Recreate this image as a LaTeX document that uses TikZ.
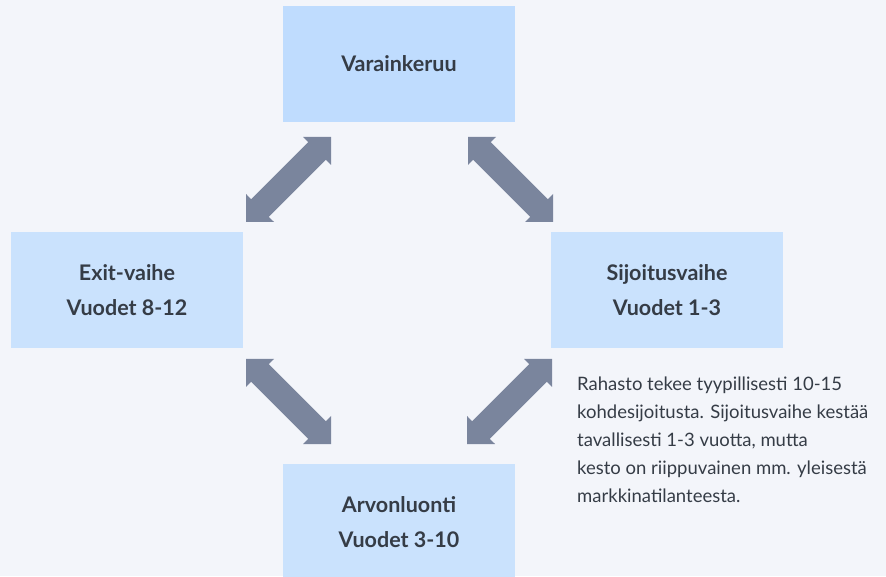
\documentclass[tikz,border=0pt]{standalone}
\usepackage{fontspec}
\setmainfont{Lato}
\usetikzlibrary{calc}
\definecolor{bg}{HTML}{F3F5FA}
\definecolor{boxtop}{HTML}{BFDCFE}
\definecolor{boxc}{HTML}{CAE2FD}
\definecolor{arrowc}{HTML}{7A859D}
\definecolor{txt}{HTML}{353C46}
\newcommand\twoway[2]{%
  \fill[arrowc] (#1) -- ($(#1)!28pt!45:(#2)$) -- ($(#1)!23.4pt!32.3:(#2)$)
    -- ($(#2)!23.4pt!-32.3:(#1)$) -- ($(#2)!28pt!-45:(#1)$) -- (#2)
    -- ($(#2)!28pt!45:(#1)$) -- ($(#2)!23.4pt!32.3:(#1)$)
    -- ($(#1)!23.4pt!-32.3:(#2)$) -- ($(#1)!28pt!-45:(#2)$) -- cycle;}
\begin{document}
\begin{tikzpicture}[x=1pt,y=1pt,
  box/.style={draw=none, minimum width=232pt, minimum height=116pt, inner sep=0pt,
    align=center, text=txt, font=\bfseries\fontsize{21.5}{35}\selectfont},
  note/.style={align=left, text=txt, inner sep=0pt, font=\fontsize{18.5}{28}\selectfont}]
\useasboundingbox (0,0) rectangle (886,576);
\clip (0,0) rectangle (886,576);
\fill[bg] (0,0) rectangle (886,576);
\node[box, fill=boxtop] (var) at (399,512) {Varainkeruu};
\node[box, fill=boxc] (exit) at (127,285.5) {Exit-vaihe\\Vuodet 8-12};
\node[box, fill=boxc] (sij) at (667,285.5) {Sijoitusvaihe\\Vuodet 1-3};
\node[box, fill=boxc] (arv) at (399,54) {Arvonluonti\\Vuodet 3-10};
\node[note, anchor=base west] (nt) at (577,74) {Rahasto tekee tyypillisesti 10-15\\kohdesijoitusta. Sijoitusvaihe kestää\\tavallisesti 1-3 vuotta, mutta\\kesto on riippuvainen mm. yleisestä\\markkinatilanteesta.};
\coordinate (a1) at (246,354); \coordinate (b1) at (331,439);
\coordinate (a2) at (468,439); \coordinate (b2) at (553,354);
\coordinate (a3) at (246,217); \coordinate (b3) at (331,132);
\coordinate (a4) at (552,217); \coordinate (b4) at (467,132);
\twoway{a1}{b1}
\twoway{a2}{b2}
\twoway{a3}{b3}
\twoway{a4}{b4}
\end{tikzpicture}
\end{document}
